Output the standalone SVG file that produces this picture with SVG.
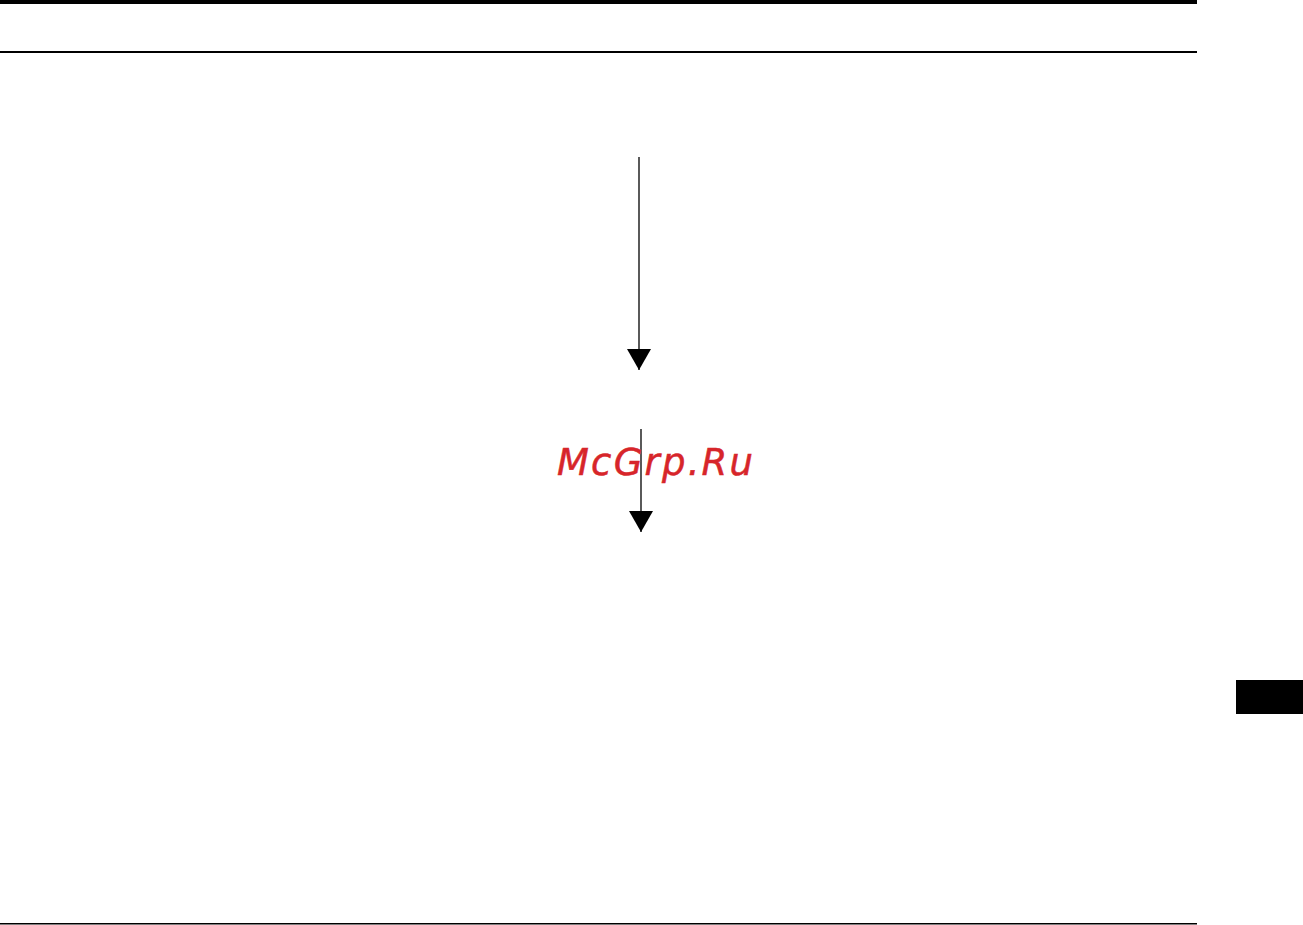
<svg xmlns="http://www.w3.org/2000/svg" width="1303" height="925" viewBox="0 0 1303 925">
<style>
.rule{fill:#000;stroke:none}
.conn{stroke:#000;stroke-width:1.3;fill:none}
.wm{font-family:"DejaVu Sans",sans-serif;font-style:italic;font-size:37px;letter-spacing:2.2px;fill:#d7252a;stroke:#d7252a;stroke-width:0.5}
</style>
<defs>
<marker id="ah" markerUnits="userSpaceOnUse" markerWidth="21" markerHeight="24" refX="21" refY="12" orient="auto" viewBox="0 0 21 24">
<path d="M0,0 L21,12 L0,24 Z" fill="#000"/>
</marker>
</defs>
<rect class="rule" x="0" y="0" width="1197" height="4"/>
<rect class="rule" x="0" y="51" width="1197" height="2"/>
<rect class="rule" x="0" y="923" width="1197" height="1.5"/>
<rect class="rule" x="1236" y="680" width="67" height="34"/>
<g id="connectors">
<line class="conn" x1="639" y1="157" x2="639" y2="370" marker-end="url(#ah)"/>
<line class="conn" x1="641" y1="429" x2="641" y2="532" marker-end="url(#ah)"/>
</g>
<g id="watermark">
<text class="wm" x="557" y="475">McGrp.Ru</text>
</g>
</svg>
